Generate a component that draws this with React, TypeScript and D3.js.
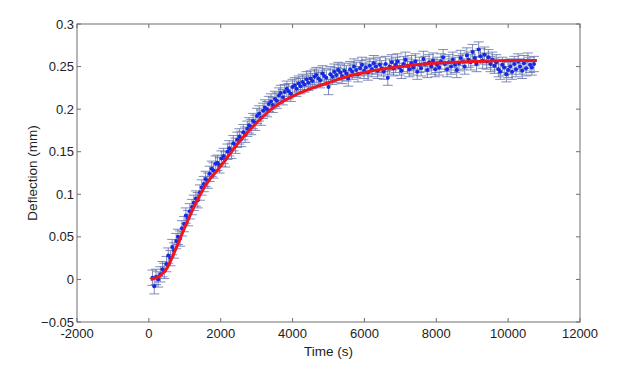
import React from "react";
import * as d3 from "d3";

const times = [100,150,200,260,320,380,430,490,540,600,650,700,760,810,870,920,980,1030,1090,1140,1200,1250,1310,1360,1420,1470,1530,1580,1640,1690,1750,1800,1860,1910,1970,2020,2080,2130,2190,2240,2300,2350,2410,2460,2520,2570,2630,2680,2740,2790,2850,2900,2960,3010,3070,3120,3180,3230,3290,3340,3400,3450,3510,3560,3620,3670,3730,3780,3840,3890,3950,4000,4060,4110,4170,4220,4280,4330,4390,4440,4500,4550,4610,4660,4720,4770,4830,4880,4940,5000,5050,5110,5160,5220,5270,5330,5380,5440,5500,5550,5600,5660,5710,5770,5820,5880,5930,5990,6040,6100,6150,6210,6260,6320,6370,6430,6480,6540,6590,6650,6700,6760,6810,6870,6920,6980,7030,7090,7140,7200,7250,7310,7360,7420,7470,7530,7580,7640,7690,7750,7800,7860,7910,7970,8020,8080,8130,8190,8240,8300,8350,8410,8460,8520,8570,8630,8680,8740,8790,8850,8900,8960,9010,9070,9120,9180,9230,9290,9340,9400,9450,9510,9560,9620,9670,9730,9780,9840,9890,9950,10000,10060,10110,10170,10220,10280,10330,10390,10440,10500,10550,10610,10660,10720];

const deflection = [0.002,-0.008,0.003,0.0,0.006,0.012,0.010,0.018,0.028,0.025,0.038,0.034,0.045,0.050,0.048,0.060,0.065,0.075,0.072,0.080,0.085,0.090,0.095,0.093,0.102,0.108,0.112,0.118,0.116,0.124,0.130,0.128,0.136,0.137,0.134,0.142,0.145,0.141,0.150,0.154,0.151,0.160,0.157,0.164,0.168,0.165,0.173,0.170,0.177,0.181,0.179,0.186,0.184,0.192,0.195,0.190,0.198,0.202,0.200,0.206,0.209,0.205,0.212,0.210,0.216,0.219,0.214,0.220,0.224,0.221,0.218,0.226,0.228,0.224,0.230,0.227,0.232,0.229,0.235,0.231,0.236,0.233,0.238,0.240,0.236,0.234,0.242,0.239,0.237,0.226,0.241,0.238,0.244,0.240,0.246,0.243,0.239,0.245,0.242,0.236,0.247,0.244,0.250,0.246,0.241,0.248,0.252,0.245,0.249,0.243,0.251,0.247,0.254,0.250,0.245,0.252,0.248,0.244,0.253,0.237,0.250,0.255,0.248,0.252,0.256,0.249,0.245,0.253,0.258,0.251,0.247,0.254,0.249,0.256,0.244,0.252,0.248,0.259,0.253,0.246,0.255,0.250,0.257,0.247,0.252,0.249,0.256,0.261,0.253,0.247,0.255,0.250,0.258,0.252,0.246,0.254,0.260,0.256,0.250,0.263,0.258,0.255,0.267,0.260,0.253,0.270,0.262,0.257,0.264,0.256,0.261,0.253,0.258,0.251,0.255,0.247,0.244,0.252,0.249,0.241,0.246,0.250,0.244,0.253,0.247,0.256,0.250,0.245,0.254,0.248,0.257,0.252,0.249,0.253];

const ERR = 0.009;

const fitTimes = [50,300,500,700,1000,1300,1600,2000,2500,3000,3500,4000,4500,5000,5500,6000,6500,7000,7500,8000,8500,9000,9500,10000,10800];
const fitValues = [0,0.004,0.013,0.031,0.061,0.089,0.112,0.133,0.161,0.184,0.203,0.215,0.224,0.231,0.238,0.243,0.247,0.250,0.2525,0.254,0.255,0.256,0.2565,0.257,0.257];

const xTicks = [-2000,0,2000,4000,6000,8000,10000,12000];
const yTicks = [-0.05,0,0.05,0.1,0.15,0.2,0.25,0.3];

const W = 618, H = 369;
const L = 77, R = 580, T = 24, B = 322;

export default function App() {
  const x = d3.scaleLinear().domain([-2000, 12000]).range([L, R]);
  const y = d3.scaleLinear().domain([-0.05, 0.3]).range([B, T]);
  const fitLine = d3.line<number>()
    .x((_, i) => x(fitTimes[i]))
    .y((d) => y(d))
    .curve(d3.curveMonotoneX);
  const axisColor = "#6e6e6e";
  const font = "'Liberation Sans', Arial, sans-serif";
  const capHalf = 5;
  return (
    <svg width={W} height={H} style={{ position: "absolute", left: 0, top: 0, background: "#fff" }}>
      <rect x={0} y={0} width={W} height={H} fill="#fff" />
      <g stroke="#6170aa" strokeWidth={0.8} fill="none">
        {times.map((t, i) => {
          const cx = x(t);
          const y1 = y(deflection[i] - ERR);
          const y2 = y(deflection[i] + ERR);
          return (
            <g key={i}>
              <line x1={cx} x2={cx} y1={y1} y2={y2} />
              <line x1={cx - capHalf} x2={cx + capHalf} y1={y1} y2={y1} />
              <line x1={cx - capHalf} x2={cx + capHalf} y1={y2} y2={y2} />
            </g>
          );
        })}
      </g>
      <g fill="#1428e6">
        {times.map((t, i) => (
          <circle key={i} cx={x(t)} cy={y(deflection[i])} r={2} />
        ))}
      </g>
      <path d={fitLine(fitValues) || ""} fill="none" stroke="#f0141e" strokeWidth={3} />
      <rect x={L} y={T} width={R - L} height={B - T} fill="none" stroke={axisColor} strokeWidth={1} />
      {xTicks.map((t) => (
        <g key={t}>
          <line x1={x(t)} x2={x(t)} y1={B} y2={B - 4} stroke={axisColor} />
          <line x1={x(t)} x2={x(t)} y1={T} y2={T + 4} stroke={axisColor} />
          <text x={x(t)} y={338} textAnchor="middle" fontFamily={font} fontSize={13} fill="#222">
            {t}
          </text>
        </g>
      ))}
      {yTicks.map((v) => (
        <g key={v}>
          <line x1={L} x2={L + 4} y1={y(v)} y2={y(v)} stroke={axisColor} />
          <line x1={R} x2={R - 4} y1={y(v)} y2={y(v)} stroke={axisColor} />
          <text x={L - 3} y={y(v) + 4.5} textAnchor="end" fontFamily={font} fontSize={13} fill="#222">
            {d3.format("")(+v.toFixed(2))}
          </text>
        </g>
      ))}
      <text x={(L + R) / 2} y={356} textAnchor="middle" fontFamily={font} fontSize={13.5} fill="#222">
        Time (s)
      </text>
      <text
        transform={`translate(37, ${(T + B) / 2}) rotate(-90)`}
        textAnchor="middle"
        fontFamily={font}
        fontSize={13.5}
        fill="#222"
      >
        Deflection (mm)
      </text>
    </svg>
  );
}
